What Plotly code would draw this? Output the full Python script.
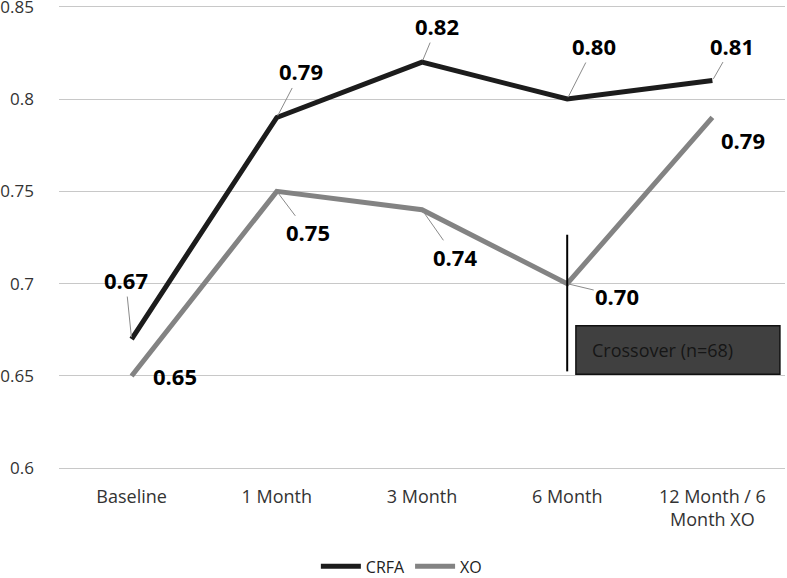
import plotly.graph_objects as go

categories = ["Baseline", "1 Month", "3 Month", "6 Month", "12 Month / 6 Month XO"]
tick_labels = ["Baseline", "1 Month", "3 Month", "6 Month", "12 Month / 6<br>Month XO"]
crfa = [0.67, 0.79, 0.82, 0.80, 0.81]
xo = [0.65, 0.75, 0.74, 0.70, 0.79]
y_ticks = [0.6, 0.65, 0.7, 0.75, 0.8, 0.85]
y_tick_labels = ["0.6", "0.65", "0.7", "0.75", "0.8", "0.85"]

# label offsets (pixels) for data labels: (ax, ay, show leader)
crfa_offsets = [(-6, -59, True), (24, -46, True), (15, -36, True), (27, -53, True), (20, -35, True)]
xo_offsets = [(43, 0, False), (31, 41, True), (33, 47, True), (50, 12, True), (31, 23, False)]

xs = list(range(len(categories)))
FONT = "'Open Sans', sans-serif"

fig = go.Figure()
fig.add_trace(go.Scatter(x=xs, y=crfa, mode="lines", name="CRFA",
                         line=dict(color="#1c1c1c", width=5)))
fig.add_trace(go.Scatter(x=xs, y=xo, mode="lines", name="XO",
                         line=dict(color="#838383", width=5)))

for series, offs in ((crfa, crfa_offsets), (xo, xo_offsets)):
    for i, (v, (ax, ay, lead)) in enumerate(zip(series, offs)):
        if lead:
            fig.add_annotation(x=xs[i], y=v, text=f"<b>{v:.2f}</b>", showarrow=True,
                               ax=ax, ay=ay, arrowhead=0, arrowwidth=1, arrowcolor="#8a8a8a",
                               standoff=2, startstandoff=0,
                               font=dict(family=FONT, size=22, color="#000000"))
        else:
            fig.add_annotation(x=xs[i], y=v, text=f"<b>{v:.2f}</b>", showarrow=False,
                               xshift=ax, yshift=-ay,
                               font=dict(family=FONT, size=22, color="#000000"))

# crossover marker
fig.add_shape(type="line", x0=3, x1=3, y0=0.6525, y1=0.7265, xref="x", yref="y",
              line=dict(color="#000000", width=2))
fig.add_shape(type="rect", x0=3.06, x1=4.465, y0=0.651, y1=0.6772, xref="x", yref="y",
              fillcolor="#404040", line=dict(color="#111111", width=1.5))
fig.add_annotation(x=3.06, y=0.664, xref="x", yref="y", text="Crossover (n=68)",
                   showarrow=False, xanchor="left", xshift=14,
                   font=dict(family=FONT, size=18, color="#161616"))

fig.update_layout(
    width=787, height=578,
    margin=dict(l=59, r=2, t=3, b=106, autoexpand=False),
    paper_bgcolor="white", plot_bgcolor="white",
    showlegend=True,
    legend=dict(orientation="h", x=0.51, xref="container", xanchor="center",
                y=0.02, yref="container", yanchor="middle",
                font=dict(family=FONT, size=16, color="#222222"),
                itemwidth=40, tracegroupgap=0),
    font=dict(family=FONT),
)
fig.update_xaxes(range=[-0.5, 4.5], tickvals=xs, ticktext=tick_labels, showgrid=False,
                 zeroline=False, showline=False, automargin=False, ticklabelstandoff=12,
                 tickfont=dict(family=FONT, size=18, color="#333333"))
fig.update_yaxes(range=[0.598, 0.852], tickvals=y_ticks, ticktext=y_tick_labels,
                 showgrid=True, gridcolor="#c8c8c8", gridwidth=1, zeroline=False,
                 showline=False, ticks="", ticklabelstandoff=24, automargin=False,
                 ticklabeloverflow="allow",
                 tickfont=dict(family=FONT, size=17, color="#333333"))

fig.write_html("out.html", config={"displayModeBar": False},
               post_script="document.body.style.margin='0';document.body.style.overflow='hidden';")
